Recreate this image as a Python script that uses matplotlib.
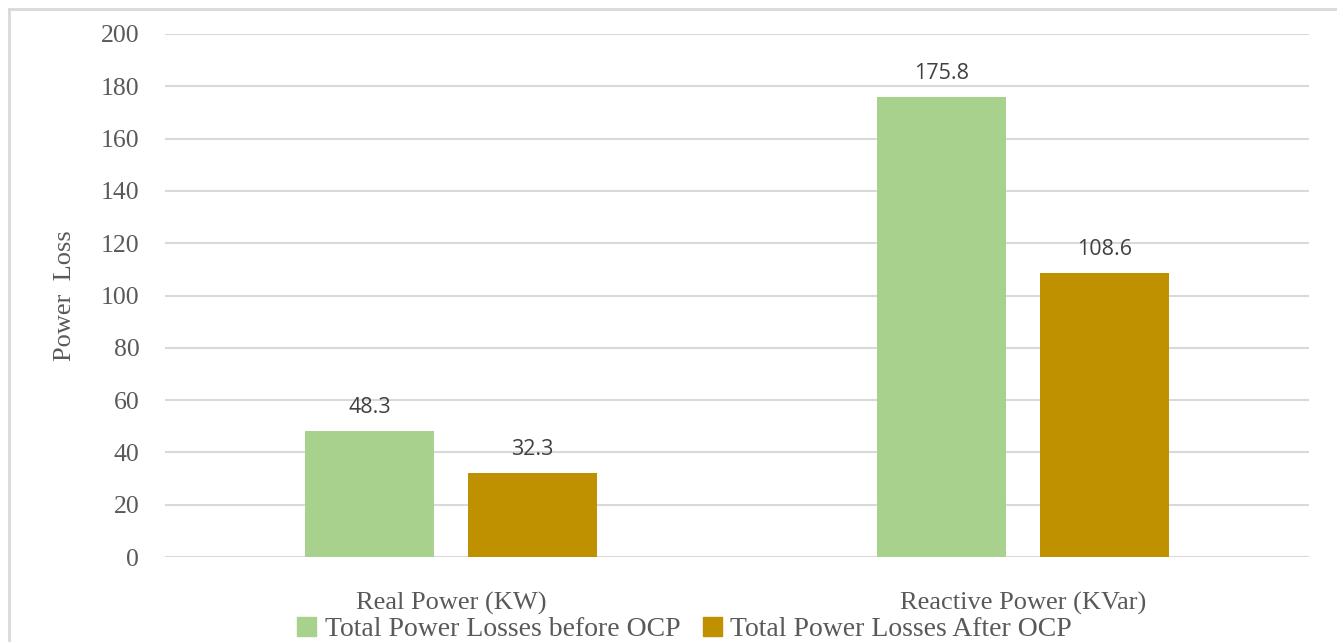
import matplotlib
matplotlib.use("Agg")
import matplotlib.pyplot as plt
from matplotlib.lines import Line2D
from matplotlib.patches import Patch
import numpy as np

# Chart data
categories = ["Real Power (KW)", "Reactive Power (KVar)"]
before_ocp = [48.3, 175.8]
after_ocp = [32.3, 108.6]
series_names = ["Total Power Losses before OCP", "Total Power Losses After OCP"]

green = "#A9D18E"
gold = "#BF9000"
grid_col = "#D9D9D9"
text_col = "#595959"
serif = ["Liberation Serif", "DejaVu Serif"]

W, H = 1337, 642
fig = plt.figure(figsize=(W / 100, H / 100), dpi=100)
ax = fig.add_axes([165 / W, (H - 557) / H, (1309 - 165) / W, (557 - 34) / H])

x = np.arange(len(categories))
bw = 0.224
off = 0.1425
b1 = ax.bar(x - off, before_ocp, bw, color=green, zorder=3)
b2 = ax.bar(x + off, after_ocp, bw, color=gold, zorder=3)

for bars, vals in [(b1, before_ocp), (b2, after_ocp)]:
    for r, v in zip(bars, vals):
        ax.annotate(f"{v}", (r.get_x() + r.get_width() / 2, v),
                    xytext=(0, 13), textcoords="offset pixels",
                    ha="center", va="bottom", fontsize=15.5,
                    family="Open Sans", color="#404040")

ax.set_xlim(-0.5, 1.5)
ax.set_ylim(0, 200)
ax.set_yticks(np.arange(0, 201, 20))
ax.yaxis.grid(True, color=grid_col, linewidth=1.5, zorder=0)
ax.set_xticks(x)
ax.set_xticklabels(categories, fontsize=19, family=serif, color=text_col)
ax.tick_params(axis="x", length=0, pad=25)
ax.tick_params(axis="y", length=0, pad=18.5, labelsize=18.5, labelcolor=text_col)
for lab in ax.get_yticklabels():
    lab.set_family(serif)
for s in ax.spines.values():
    s.set_visible(False)

ax.set_ylabel("Power  Loss", fontsize=19, family=serif, color=text_col, labelpad=0)
ax.yaxis.set_label_coords(-(165 - 76) / (1309 - 165), 0.5)

handles = [Patch(color=green), Patch(color=gold)]
fig.legend(handles, series_names, loc="upper left", ncol=2,
           bbox_to_anchor=(272 / W, (H - 592) / H), frameon=False,
           prop={"family": serif, "size": 20}, labelcolor=text_col,
           handlelength=0.7, handleheight=0.7, handletextpad=0.3,
           columnspacing=0.8)

# outer chart frame
fig.add_artist(Line2D([9 / W, 9 / W], [0, (H - 9) / H], color=grid_col,
                      linewidth=2, transform=fig.transFigure))
fig.add_artist(Line2D([9 / W, 1], [(H - 9) / H, (H - 9) / H], color=grid_col,
                      linewidth=2, transform=fig.transFigure))

fig.savefig("out.png", dpi=100)
